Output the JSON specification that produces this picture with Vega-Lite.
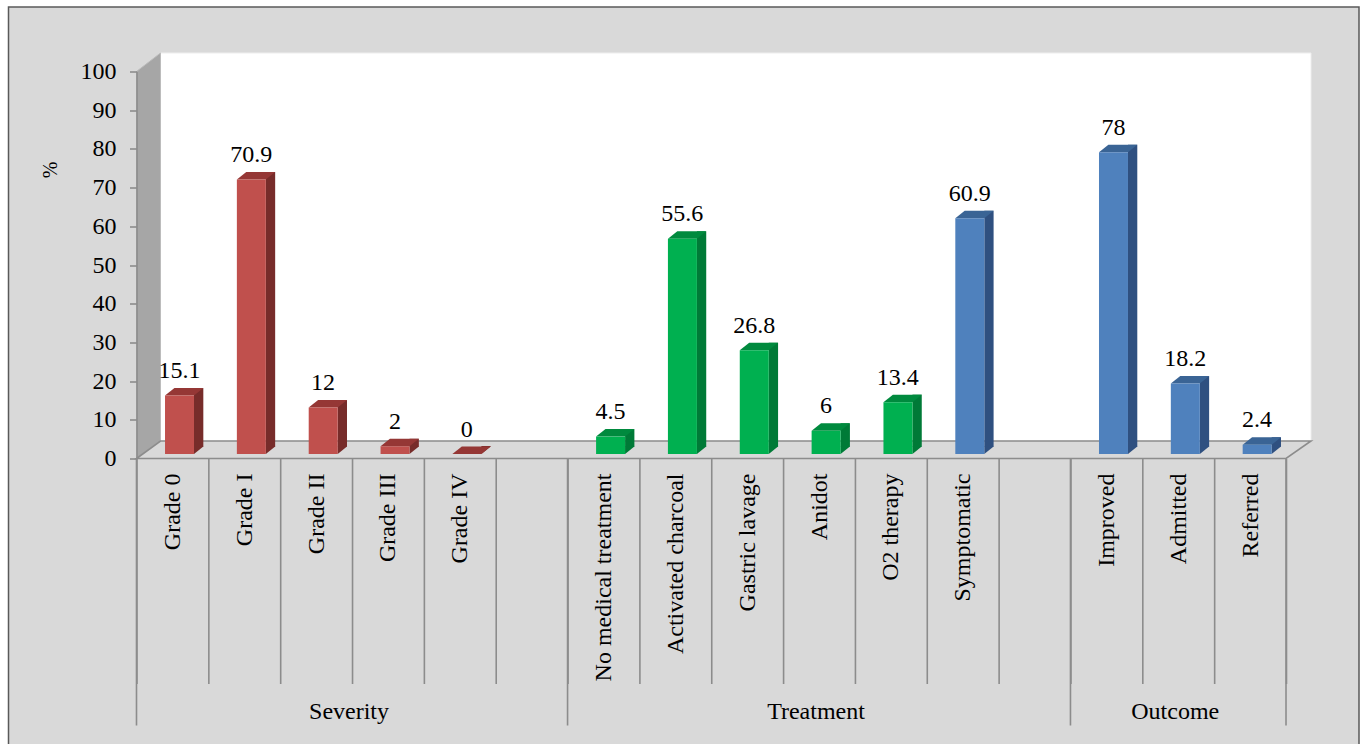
{
"$schema":"https://vega.github.io/schema/vega-lite/v6.json",
"width":1149.5,"height":387,
"autosize":{"type":"none"},
"padding":{"left":136.5,"top":71.5,"right":78,"bottom":285.5},
"background":"#ffffff",
"view":{"stroke":null,"fill":null},
"config":{"font":"Liberation Serif","style":{"cell":{"stroke":null}}},
"datasets":{
"bars":[
{"category":"Grade 0","series":"A","value":15.1},
{"category":"Grade I","series":"A","value":70.9},
{"category":"Grade II","series":"A","value":12},
{"category":"Grade III","series":"A","value":2},
{"category":"Grade IV","series":"A","value":0},
{"category":"No medical treatment","series":"B","value":4.5},
{"category":"Activated charcoal","series":"B","value":55.6},
{"category":"Gastric lavage","series":"B","value":26.8},
{"category":"Anidot","series":"B","value":6},
{"category":"O2 therapy","series":"B","value":13.4},
{"category":"Symptomatic","series":"C","value":60.9},
{"category":"Improved","series":"C","value":78},
{"category":"Admitted","series":"C","value":18.2},
{"category":"Referred","series":"C","value":2.4}
],
"origin":[{"category":"Grade 0"}],
"groups":[{"category":"Grade 0"},{"category":"No medical treatment"},{"category":"Improved"}]
},
"layer":[
{"data":{"name":"origin"},
 "mark":{"type":"point","filled":true,"fill":"#d9d9d9","stroke":"#595959","strokeWidth":1.5,"opacity":1,"size":4,"shape":"M-128 -451.5 L1222.5 -451.5 L1222.5 295 L-128 295 Z"},
 "encoding":{
  "x":{"field":"category","type":"nominal","bandPosition":0,"title":null,
   "axis":{"title":null,"zindex":1,"domain":false,"tickBand":"extent","tickRound":false,"tickSize":225,"tickColor":"#8c8c8c","tickWidth":1.6,"labelAngle":-90,"labelAlign":"right","labelBaseline":"middle","labelPadding":-210.5,"labelOffset":0,"labelLimit":300,"labelOverlap":false,"labelBound":false,"labelFontSize":24,"labelFont":"Liberation Serif","labelColor":"#000000",
   "labelExpr":"indexof(['Gastric lavage','Anidot'],datum.label)>=0 ? datum.label+'\u00a0' : datum.label"},
   "scale":{"type":"band","padding":0,"domain":["Grade 0","Grade I","Grade II","Grade III","Grade IV"," ","No medical treatment","Activated charcoal","Gastric lavage","Anidot","O2 therapy","Symptomatic","  ","Improved","Admitted","Referred"]}},
  "y":{"datum":0,"type":"quantitative",
   "axis":{"title":"%","zindex":1,"values":[0,10,20,30,40,50,60,70,80,90,100],"tickCount":11,"labelOverlap":false,"domain":true,"domainColor":"#8c8c8c","domainWidth":1.6,"tickColor":"#8c8c8c","tickWidth":1.6,"tickSize":7,"labelPadding":13.5,"labelFontSize":24,"labelFont":"Liberation Serif","labelColor":"#000000","grid":false,"titleFont":"Liberation Serif","titleFontSize":20,"titleFontWeight":"normal","titleColor":"#000000","titleX":-86,"titleY":98,"titleAngle":-90,"titleAlign":"center","titleBaseline":"middle"},
   "scale":{"domain":[0,100],"nice":false,"zero":false}}}},
{"data":{"name":"origin"},
 "mark":{"type":"point","filled":true,"fill":"#ffffff","stroke":"#eeeeee","strokeWidth":1,"opacity":1,"size":4,"shape":"M24 -405.5 L1174.5 -405.5 L1174.5 -17.5 L24 -17.5 Z"},
 "encoding":{"x":{"field":"category","type":"nominal","bandPosition":0},"y":{"datum":0,"type":"quantitative"}}},
{"data":{"name":"origin"},
 "mark":{"type":"point","filled":true,"fill":"#a6a6a6","stroke":"#bcbcbc","strokeWidth":1,"opacity":1,"size":4,"shape":"M0 -387 L24 -405.5 L24 -17.5 L0 0 Z"},
 "encoding":{"x":{"field":"category","type":"nominal","bandPosition":0},"y":{"datum":0,"type":"quantitative"}}},
{"data":{"name":"origin"},
 "mark":{"type":"point","filled":true,"fill":"#d9d9d9","stroke":"#8c8c8c","strokeWidth":1.6,"opacity":1,"size":4,"shape":"M0 0 L24 -17.5 L1174.5 -17.5 L1149.5 0 Z"},
 "encoding":{"x":{"field":"category","type":"nominal","bandPosition":0},"y":{"datum":0,"type":"quantitative"}}},
{"data":{"name":"groups"},
 "mark":{"type":"rule","stroke":"#8c8c8c","strokeWidth":1.6},
 "encoding":{"x":{"field":"category","type":"nominal","bandPosition":0},"y":{"datum":0,"type":"quantitative"},"y2":{"datum":-69}}},
{"data":{"values":[{"category":"Referred"}]},
 "mark":{"type":"rule","stroke":"#8c8c8c","strokeWidth":1.6},
 "encoding":{"x":{"field":"category","type":"nominal","bandPosition":1},"y":{"datum":0,"type":"quantitative"},"y2":{"datum":-69}}},
{"data":{"values":[{"category":"Grade II","group":"Severity"}]},
 "mark":{"type":"text","fontSize":24,"font":"Liberation Serif","baseline":"middle","align":"center","color":"#000000","dx":-3},
 "encoding":{"x":{"field":"category","type":"nominal","bandPosition":1},"y":{"datum":-65.4,"type":"quantitative"},"text":{"field":"group"}}},
{"data":{"values":[{"category":"Anidot","group":"Treatment"},{"category":"Admitted","group":"Outcome"}]},
 "mark":{"type":"text","fontSize":24,"font":"Liberation Serif","baseline":"middle","align":"center","color":"#000000","dx":-3},
 "encoding":{"x":{"field":"category","type":"nominal"},"y":{"datum":-65.4,"type":"quantitative"},"text":{"field":"group"}}},
{"data":{"name":"bars"},
 "mark":{"type":"bar","width":9.3,"xOffset":26.25,"yOffset":-12,"y2Offset":-12},
 "encoding":{"x":{"field":"category","type":"nominal"},"y":{"field":"value","type":"quantitative"},"y2":{"datum":0},
  "color":{"field":"series","type":"nominal","legend":null,"scale":{"domain":["A","B","C"],"range":["#772c2a","#007a37","#2f5080"]}}}},
{"data":{"name":"bars"},
 "mark":{"type":"point","filled":true,"opacity":1,"size":4,"strokeWidth":0,"shape":"M21.6 -12.5 L30.9 -12.5 L30.9 -12 L21.6 -4.5 Z"},
 "encoding":{"x":{"field":"category","type":"nominal"},"y":{"datum":0,"type":"quantitative"},
  "color":{"field":"series","type":"nominal","legend":null,"scale":{"domain":["A","B","C"],"range":["#772c2a","#007a37","#2f5080"]}}}},
{"data":{"name":"bars"},
 "mark":{"type":"point","filled":true,"opacity":1,"size":4,"strokeWidth":0,"shape":"M-7.4 -4.5 L2 -12 L30.9 -12 L21.6 -4.5 Z"},
 "encoding":{"x":{"field":"category","type":"nominal"},"y":{"field":"value","type":"quantitative"},
  "color":{"field":"series","type":"nominal","legend":null,"scale":{"domain":["A","B","C"],"range":["#953735","#008a3e","#3a6495"]}}}},
{"data":{"name":"bars"},
 "mark":{"type":"bar","width":29,"xOffset":7.1,"yOffset":-4.5,"y2Offset":-4.5},
 "encoding":{
  "x":{"field":"category","type":"nominal"},
  "y":{"field":"value","type":"quantitative"},
  "y2":{"datum":0},
  "color":{"field":"series","type":"nominal","legend":null,"scale":{"domain":["A","B","C"],"range":["#c0504d","#00b050","#4f81bd"]}}}},
{"data":{"name":"bars"},
 "mark":{"type":"text","fontSize":24,"font":"Liberation Serif","baseline":"alphabetic","align":"center","dx":7,"dy":-22,"color":"#000000"},
 "encoding":{"x":{"field":"category","type":"nominal"},"y":{"field":"value","type":"quantitative"},"text":{"field":"value","type":"quantitative","format":".1~f"}}}
],
"resolve":{"scale":{"color":"independent"}}
}
